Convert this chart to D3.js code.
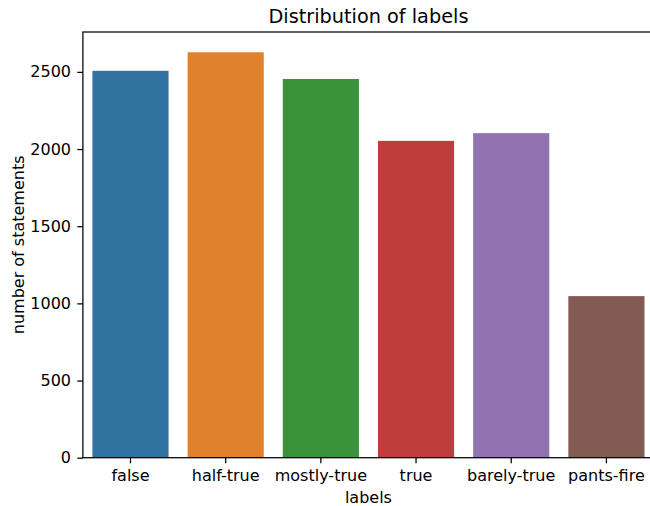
<!DOCTYPE html>
<html><head><meta charset="utf-8">
<script src="https://cdn.jsdelivr.net/npm/d3@7"></script>
<style>body{margin:0;background:#fff}svg{display:block}text{font-family:"DejaVu Sans",sans-serif;fill:#000}</style>
</head><body><svg id="c" width="650" height="506"></svg>
<script>
const categories = ["false","half-true","mostly-true","true","barely-true","pants-fire"];
const counts = [2507,2627,2454,2053,2103,1047];
const colors = ["#3274a1","#e1812c","#3a923a","#c03d3e","#9372b2","#845b53"];
const yTicks = [0,500,1000,1500,2000,2500];

const svg = d3.select("#c");
const L = 82.9, R = 654, T = 32, B = 457.7;
const x = d3.scaleBand().domain(categories).range([L,R]).paddingInner(0.2).paddingOuter(0.1);
const y = d3.scaleLinear().domain([0, d3.max(counts)*1.05]).range([B,T]);

svg.append("g").selectAll("rect").data(categories).join("rect")
  .attr("x", d=>x(d)).attr("width", x.bandwidth())
  .attr("y", (d,i)=>y(counts[i])).attr("height", (d,i)=>B-y(counts[i]))
  .attr("fill", (d,i)=>colors[i]);

const fs = 16;
const ya = svg.append("g").attr("transform",`translate(${L},0)`)
  .call(d3.axisLeft(y).tickValues(yTicks).tickSize(5.6).tickPadding(6.3).tickFormat(d3.format("d")));
const xa = svg.append("g").attr("transform",`translate(0,${B})`)
  .call(d3.axisBottom(x).tickSize(5.6).tickPadding(6));
[ya,xa].forEach(a=>{
  a.select(".domain").remove();
  a.selectAll("line").attr("stroke","#000").attr("stroke-width",1.25);
  a.selectAll("text").style("font-size",fs+"px").attr("font-family","DejaVu Sans");
});
const sp = svg.append("g").attr("fill","none").attr("stroke","#000").attr("stroke-width",1.25);
sp.append("rect").attr("x",L).attr("y",T).attr("width",R-L).attr("height",B-T);

svg.append("text").attr("x",(L+R)/2).attr("y",23).attr("text-anchor","middle")
  .style("font-size","19.3px").text("Distribution of labels");
svg.append("text").attr("x",(L+R)/2).attr("y",503).attr("text-anchor","middle")
  .style("font-size",fs+"px").text("labels");
svg.append("text").attr("transform",`translate(24,${(T+B)/2}) rotate(-90)`).attr("text-anchor","middle")
  .style("font-size",fs+"px").text("number of statements");
</script></body></html>
